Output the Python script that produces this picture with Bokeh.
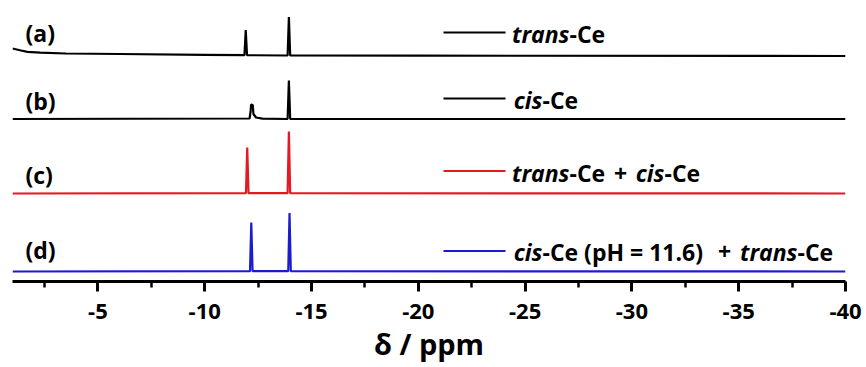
from bokeh.plotting import figure
from bokeh.models import Range1d, FixedTicker, Label, ColumnDataSource
from bokeh.embed import file_html
from bokeh.resources import INLINE

# ---------------- data ----------------
# chemical shift (ppm) / intensity (relative to each trace's baseline)
ppm_a = [-1.0, -1.4, -1.7, -2.3, -3.5, -6.0, -10.0, -11.86, -11.92, -11.98,
         -13.88, -13.94, -14.00, -20.0, -40.0]
int_a = [7.5, 5.5, 4.2, 3.3, 2.5, 2.0, 1.2, 0.8, 26.0, 0.8,
         0.5, 39.0, 0.5, 0.3, 0.0]

ppm_b = [-1.0, -12.10, -12.15, -12.17, -12.25, -12.28, -12.40, -12.70,
         -13.88, -13.94, -14.00, -40.0]
int_b = [0.0, 0.5, 8.0, 14.5, 14.0, 5.0, 1.5, 0.3,
         0.0, 38.5, 0.0, 0.0]

ppm_c = [-1.0, -11.93, -11.99, -12.05, -13.88, -13.94, -14.00, -40.0]
int_c = [0.0, 0.3, 46.0, 0.3, 0.3, 62.0, 0.3, 0.0]

ppm_d = [-1.0, -12.12, -12.18, -12.24, -13.91, -13.97, -14.03, -40.0]
int_d = [0.0, 0.3, 49.0, 0.3, 0.3, 58.5, 0.3, 0.0]

series_ppm = [ppm_a, ppm_b, ppm_c, ppm_d]
series_int = [int_a, int_b, int_c, int_d]
offsets = [225.5, 162.5, 88.0, 10.0]
colors = ["#000000", "#000000", "#e41a23", "#1c1ccf"]
panel_labels = ["(a)", "(b)", "(c)", "(d)"]

# legend texts: (piece, italic)
legend_parts = [
    [("trans", True), ("-Ce", False)],
    [("cis", True), ("-Ce", False)],
    [("trans", True), ("-Ce", False), ("+", False), ("cis", True), ("-Ce", False)],
    [("cis", True), ("-Ce (pH = 11.6)", False), ("+", False), ("trans", True), ("-Ce", False)],
]

major_ticks = [-5, -10, -15, -20, -25, -30, -35, -40]
minor_ticks = [-2.5, -7.5, -12.5, -17.5, -22.5, -27.5, -32.5, -37.5]
tick_text = ["-5", "-10", "-15", "-20", "-25", "-30", "-35", "-40"]
x_title = "δ / ppm"

# ---------------- layout (pixel-like helper coordinates) ----------------
FONT = "Open Sans"
label_y = [32.5, 100, 174, 249]
legend_line_y = [32, 98, 170.5, 250.5]
legend_text_y = [33, 99, 172.5, 251]
# anchors for each legend piece: (x, align)
legend_anchor = [
    [(569, "right"), (569, "left")],
    [(542, "right"), (542, "left")],
    [(569, "right"), (569, "left"), (620, "center"), (664, "right"), (664, "left")],
    [(542, "right"), (542, "left"), (724, "center"), (797, "right"), (797, "left")],
]

p = figure(width=866, height=367,
           x_range=Range1d(-1.0, -40.0), y_range=Range1d(0, 281),
           output_backend="svg", toolbar_location=None,
           y_axis_location=None,
           min_border_left=12, min_border_right=21,
           min_border_top=0, min_border_bottom=86)
p.outline_line_color = None
p.grid.visible = False
p.extra_x_ranges = {"px": Range1d(12, 845)}
p.extra_y_ranges = {"py": Range1d(281, 0)}

for xs, ys, off, col in zip(series_ppm, series_int, offsets, colors):
    src = ColumnDataSource(dict(x=xs, y=[v + off for v in ys]))
    p.line("x", "y", source=src, line_color=col, line_width=2.2)

# panel labels
for txt, yy in zip(panel_labels, label_y):
    p.add_layout(Label(x=25, y=yy, x_range_name="px", y_range_name="py",
                       text=txt, text_font=FONT, text_font_style="bold",
                       text_font_size="23px", text_baseline="middle",
                       text_align="left", text_color="#000000"))

# legend lines
leg_src = ColumnDataSource(dict(x0=[443] * 4, x1=[505] * 4,
                                y=legend_line_y, c=colors))
p.segment(x0="x0", y0="y", x1="x1", y1="y", color="c", line_width=2,
          source=leg_src, x_range_name="px", y_range_name="py")

# legend texts
for parts, anchors, yy in zip(legend_parts, legend_anchor, legend_text_y):
    for (txt, ital), (ax_, al) in zip(parts, anchors):
        p.add_layout(Label(x=ax_, y=yy, x_range_name="px", y_range_name="py",
                           text=txt, text_font=FONT,
                           text_font_style="bold italic" if ital else "bold",
                           text_font_size="23px", text_baseline="middle",
                           text_align=al, text_color="#000000"))

ax = p.xaxis[0]
ax.ticker = FixedTicker(ticks=major_ticks, minor_ticks=minor_ticks)
ax.major_label_overrides = {t: s for t, s in zip(major_ticks, tick_text)}
ax.axis_line_width = 3
ax.axis_line_color = "#000000"
ax.major_tick_line_width = 3
ax.major_tick_line_color = "#000000"
ax.major_tick_out = 10
ax.major_tick_in = 0
ax.minor_tick_line_width = 2.5
ax.minor_tick_line_color = "#000000"
ax.minor_tick_out = 6
ax.minor_tick_in = 0
ax.major_label_text_font = FONT
ax.major_label_text_font_style = "bold"
ax.major_label_text_font_size = "22px"
ax.major_label_text_color = "#000000"
ax.major_label_standoff = 12
ax.axis_label = x_title
ax.axis_label_text_font = FONT
ax.axis_label_text_font_style = "bold"
ax.axis_label_text_font_size = "29px"
ax.axis_label_text_color = "#000000"
ax.axis_label_standoff = 2

open("out.html", "w").write(file_html(p, INLINE))
